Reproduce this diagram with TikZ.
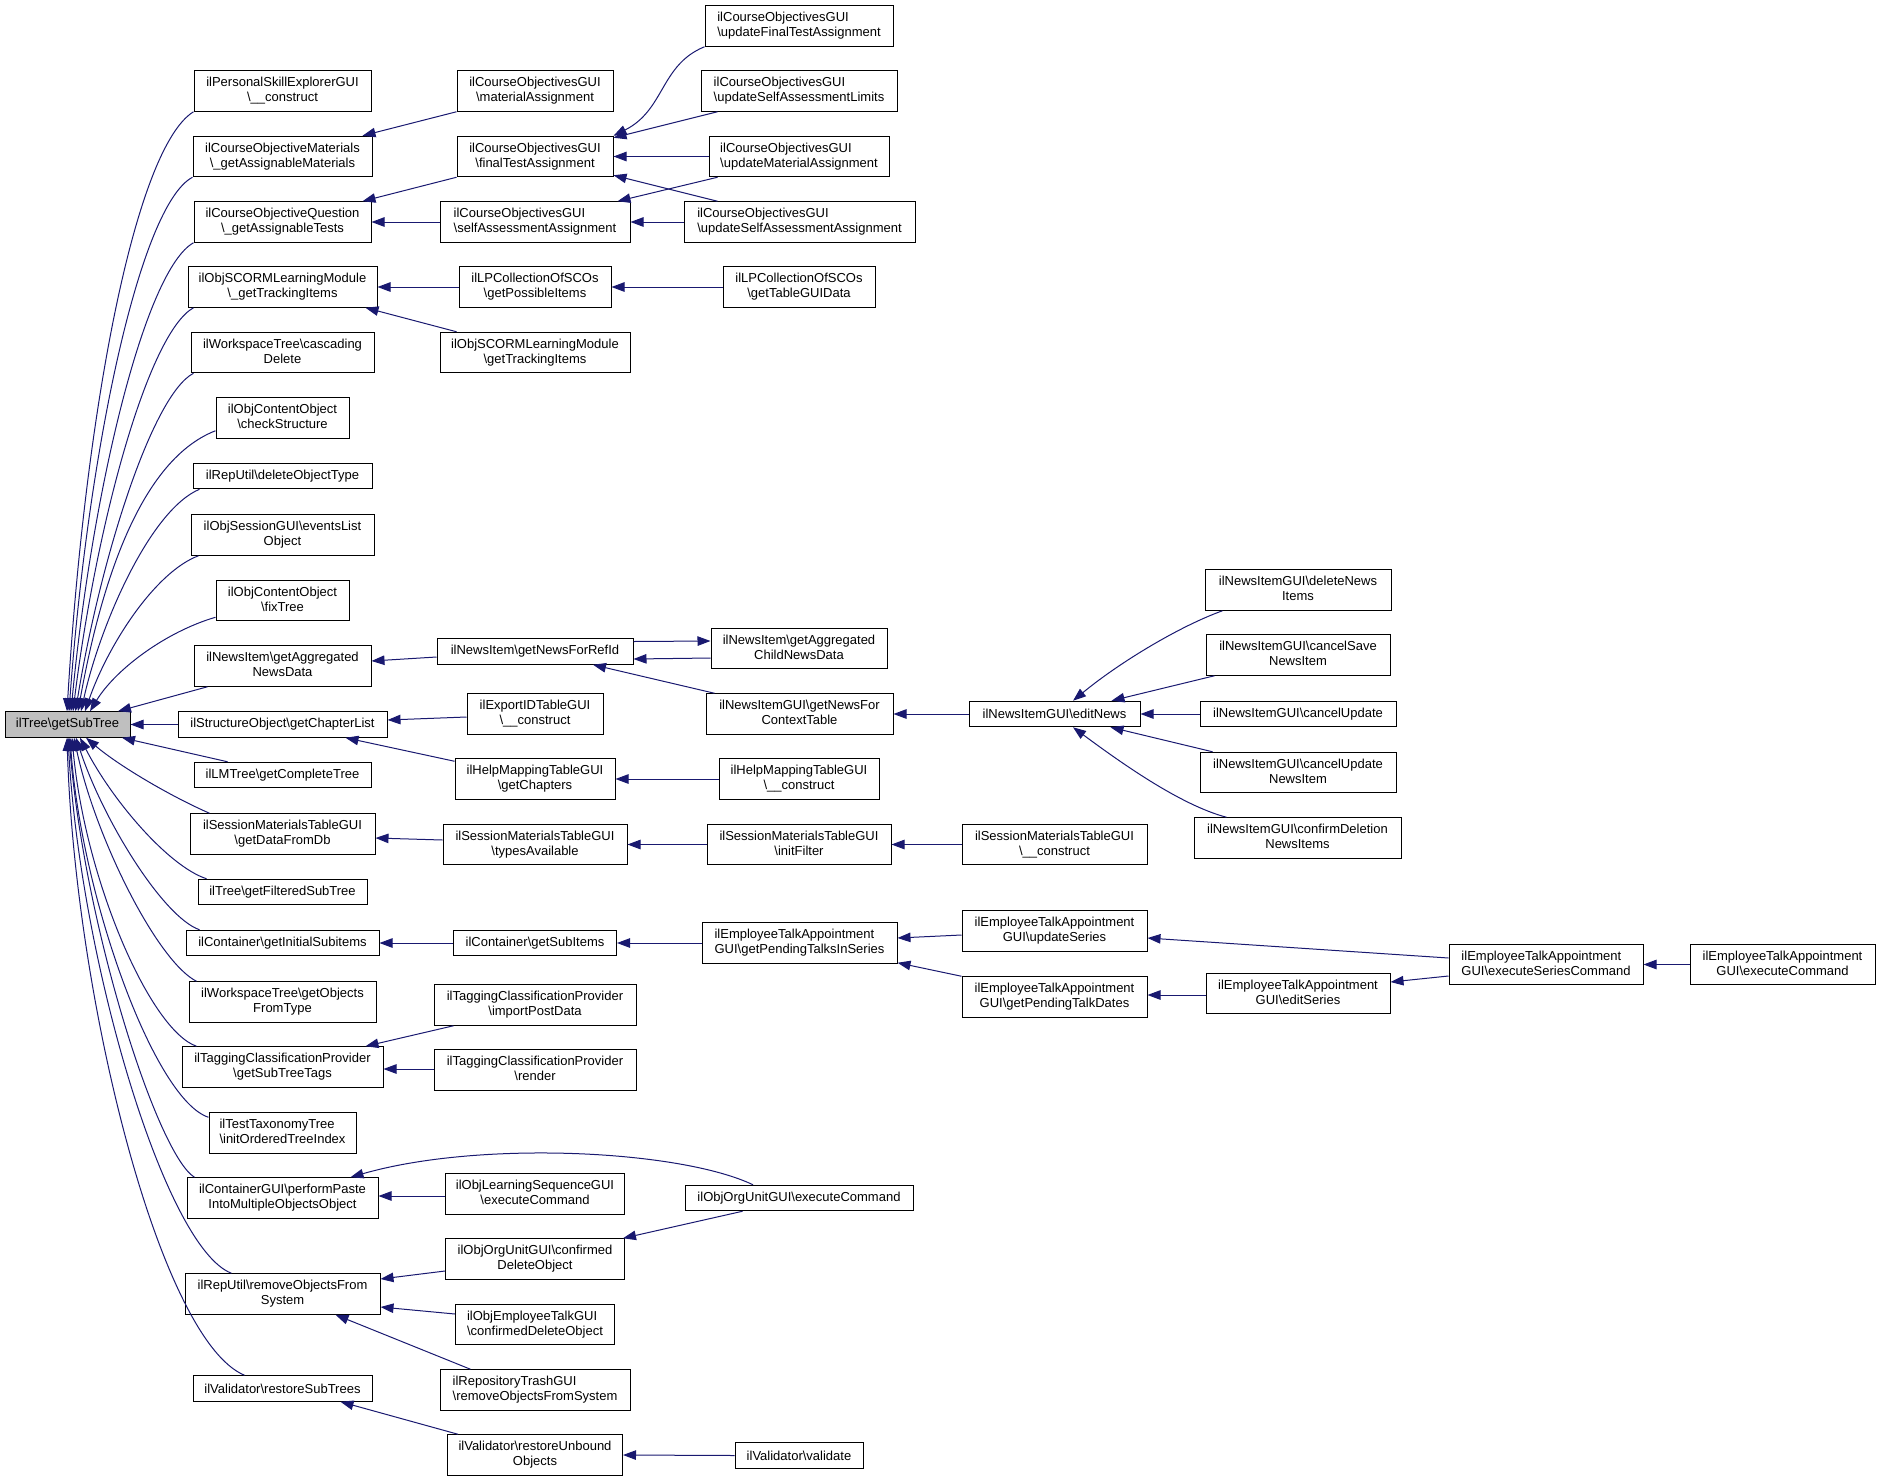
\documentclass[tikz,border=0pt]{standalone}
\usepackage{fontspec}
\setmainfont{Liberation Sans}
\usetikzlibrary{arrows.meta,calc}
\definecolor{eblue}{HTML}{191970}
\definecolor{rootfill}{HTML}{BFBFBF}
\definecolor{bgray}{HTML}{404040}
\newlength\twA\newlength\twB
\newcommand\twol[2]{\settowidth\twA{#1}\settowidth\twB{#2}%
 \begin{tabular}{@{}c@{}}\ifdim\twA<\twB\makebox[\twB][l]{#1}\else#1\fi\\#2\end{tabular}}
\newcommand\bksl{\textbackslash}
\begin{document}
\begin{tikzpicture}[x=1pt,y=-1pt,
  bx/.style={draw=black,line width=1pt,fill=white,inner sep=0pt,font=\fontsize{13}{15}\selectfont},
  one/.style={bx,minimum height=25.5pt},
  two/.style={bx,minimum height=40.5pt},
  e/.style={draw=eblue,line width=1pt,<-,>={Triangle[length=13pt,width=9.5pt]}}]
\useasboundingbox (0,0) rectangle (1880,1481);
% root
\node[one,fill=rootfill,minimum width=125pt] (root) at (67.5,724.5) {ilTree\bksl getSubTree};
% column 1
\node[two,minimum width=177pt] (a1) at (282.5,91) {\twol{ilPersonalSkillExplorerGUI}{\bksl\_\_construct}};
\node[two,minimum width=179pt] (a2) at (282.5,156.5) {\twol{ilCourseObjectiveMaterials}{\bksl\_getAssignableMaterials}};
\node[two,minimum width=177pt] (a3) at (282.5,222) {\twol{ilCourseObjectiveQuestion}{\bksl\_getAssignableTests}};
\node[two,minimum width=189pt] (a4) at (282.5,287) {\twol{ilObjSCORMLearningModule}{\bksl\_getTrackingItems}};
\node[two,minimum width=183pt] (a5) at (282.5,352.5) {\twol{ilWorkspaceTree\bksl cascading}{Delete}};
\node[two,minimum width=133pt] (a6) at (282.5,418) {\twol{ilObjContentObject}{\bksl checkStructure}};
\node[one,minimum width=179pt] (a7) at (282.5,476) {ilRepUtil\bksl deleteObjectType};
\node[two,minimum width=183pt] (a8) at (282.5,535) {\twol{ilObjSessionGUI\bksl eventsList}{Object}};
\node[two,minimum width=133pt] (a9) at (282.5,600.5) {\twol{ilObjContentObject}{\bksl fixTree}};
\node[two,minimum width=177pt] (a10) at (282.5,666) {\twol{ilNewsItem\bksl getAggregated}{NewsData}};
\node[one,minimum width=209pt] (a11) at (282.5,724.5) {ilStructureObject\bksl getChapterList};
\node[one,minimum width=177pt] (a12) at (282.5,775) {ilLMTree\bksl getCompleteTree};
\node[two,minimum width=185pt] (a13) at (282.5,834) {\twol{ilSessionMaterialsTableGUI}{\bksl getDataFromDb}};
\node[one,minimum width=169pt] (a14) at (282.5,892) {ilTree\bksl getFilteredSubTree};
\node[one,minimum width=193pt] (a15) at (282.5,943) {ilContainer\bksl getInitialSubitems};
\node[two,minimum width=187pt] (a16) at (282.5,1002) {\twol{ilWorkspaceTree\bksl getObjects}{FromType}};
\node[two,minimum width=201pt] (a17) at (282.5,1067) {\twol{ilTaggingClassificationProvider}{\bksl getSubTreeTags}};
\node[two,minimum width=147pt] (a18) at (282.5,1133) {\twol{ilTestTaxonomyTree}{\bksl initOrderedTreeIndex}};
\node[two,minimum width=191pt] (a19) at (282.5,1198) {\twol{ilContainerGUI\bksl performPaste}{IntoMultipleObjectsObject}};
\node[two,minimum width=195pt] (a20) at (282.5,1294) {\twol{ilRepUtil\bksl removeObjectsFrom}{System}};
\node[one,minimum width=179pt] (a21) at (282.5,1388.5) {ilValidator\bksl restoreSubTrees};
% column 2
\node[two,minimum width=156pt] (b1) at (535,91) {\twol{ilCourseObjectivesGUI}{\bksl materialAssignment}};
\node[two,minimum width=156pt] (b2) at (535,156.5) {\twol{ilCourseObjectivesGUI}{\bksl finalTestAssignment}};
\node[two,minimum width=190pt] (b3) at (535,222) {\twol{ilCourseObjectivesGUI}{\bksl selfAssessmentAssignment}};
\node[two,minimum width=152pt] (b4) at (535,287) {\twol{ilLPCollectionOfSCOs}{\bksl getPossibleItems}};
\node[two,minimum width=190pt] (b5) at (535,352.5) {\twol{ilObjSCORMLearningModule}{\bksl getTrackingItems}};
\node[one,minimum width=196pt] (b6) at (535,651.5) {ilNewsItem\bksl getNewsForRefId};
\node[two,minimum width=136pt] (b7) at (535,714) {\twol{ilExportIDTableGUI}{\bksl\_\_construct}};
\node[two,minimum width=160pt] (b8) at (535,779) {\twol{ilHelpMappingTableGUI}{\bksl getChapters}};
\node[two,minimum width=184pt] (b9) at (535,844.5) {\twol{ilSessionMaterialsTableGUI}{\bksl typesAvailable}};
\node[one,minimum width=163pt] (b10) at (535,943) {ilContainer\bksl getSubItems};
\node[two,minimum width=202pt] (b11) at (535,1005) {\twol{ilTaggingClassificationProvider}{\bksl importPostData}};
\node[two,minimum width=202pt] (b12) at (535,1070) {\twol{ilTaggingClassificationProvider}{\bksl render}};
\node[two,minimum width=179pt] (b13) at (535,1194) {\twol{ilObjLearningSequenceGUI}{\bksl executeCommand}};
\node[two,minimum width=179pt] (b14) at (535,1259) {\twol{ilObjOrgUnitGUI\bksl confirmed}{DeleteObject}};
\node[two,minimum width=159pt] (b15) at (535,1324.5) {\twol{ilObjEmployeeTalkGUI}{\bksl confirmedDeleteObject}};
\node[two,minimum width=190pt] (b16) at (535,1390) {\twol{ilRepositoryTrashGUI}{\bksl removeObjectsFromSystem}};
\node[two,minimum width=175pt] (b17) at (535,1455) {\twol{ilValidator\bksl restoreUnbound}{Objects}};
% column 3
\node[two,minimum width=188pt] (c1) at (799,26) {\twol{ilCourseObjectivesGUI}{\bksl updateFinalTestAssignment}};
\node[two,minimum width=196pt] (c2) at (799,91) {\twol{ilCourseObjectivesGUI}{\bksl updateSelfAssessmentLimits}};
\node[two,minimum width=180pt] (c3) at (799,156.5) {\twol{ilCourseObjectivesGUI}{\bksl updateMaterialAssignment}};
\node[two,minimum width=231pt] (c4) at (799.5,222) {\twol{ilCourseObjectivesGUI}{\bksl updateSelfAssessmentAssignment}};
\node[two,minimum width=152pt] (c5) at (799,287) {\twol{ilLPCollectionOfSCOs}{\bksl getTableGUIData}};
\node[two,minimum width=176pt] (c6) at (799,648.5) {\twol{ilNewsItem\bksl getAggregated}{ChildNewsData}};
\node[two,minimum width=187pt] (c7) at (799.5,714) {\twol{ilNewsItemGUI\bksl getNewsFor}{ContextTable}};
\node[two,minimum width=160pt] (c8) at (799,779) {\twol{ilHelpMappingTableGUI}{\bksl\_\_construct}};
\node[two,minimum width=184pt] (c9) at (799,844.5) {\twol{ilSessionMaterialsTableGUI}{\bksl initFilter}};
\node[two,minimum width=195pt] (c10) at (799.5,943) {\twol{ilEmployeeTalkAppointment}{GUI\bksl getPendingTalksInSeries}};
\node[one,minimum width=228pt] (c11) at (799,1198) {ilObjOrgUnitGUI\bksl executeCommand};
\node[one,minimum width=128pt] (c12) at (799,1455.5) {ilValidator\bksl validate};
% column 4
\node[one,minimum width=171pt] (d1) at (1054.5,714) {ilNewsItemGUI\bksl editNews};
\node[two,minimum width=185pt] (d2) at (1054.5,844.5) {\twol{ilSessionMaterialsTableGUI}{\bksl\_\_construct}};
\node[two,minimum width=185pt] (d3) at (1054.5,931) {\twol{ilEmployeeTalkAppointment}{GUI\bksl updateSeries}};
\node[two,minimum width=185pt] (d4) at (1054.5,997) {\twol{ilEmployeeTalkAppointment}{GUI\bksl getPendingTalkDates}};
% column 5
\node[two,minimum width=186pt] (e1) at (1298,590) {\twol{ilNewsItemGUI\bksl deleteNews}{Items}};
\node[two,minimum width=184pt] (e2) at (1298,655) {\twol{ilNewsItemGUI\bksl cancelSave}{NewsItem}};
\node[one,minimum width=196pt] (e3) at (1298,714) {ilNewsItemGUI\bksl cancelUpdate};
\node[two,minimum width=196pt] (e4) at (1298,772.5) {\twol{ilNewsItemGUI\bksl cancelUpdate}{NewsItem}};
\node[two,minimum width=207pt] (e5) at (1297.5,838) {\twol{ilNewsItemGUI\bksl confirmDeletion}{NewsItems}};
\node[two,minimum width=184pt] (e6) at (1298,993.5) {\twol{ilEmployeeTalkAppointment}{GUI\bksl editSeries}};
% columns 6, 7
\node[two,minimum width=194pt] (f1) at (1546,964.5) {\twol{ilEmployeeTalkAppointment}{GUI\bksl executeSeriesCommand}};
\node[two,minimum width=185pt] (g1) at (1782.5,964.5) {\twol{ilEmployeeTalkAppointment}{GUI\bksl executeCommand}};

% ---- edges into root (top)
\draw[e] ([xshift=-0.5pt]root.north) .. controls (85,412) and (135,148) .. (a1.south west);
\draw[e] ([xshift=1.5pt]root.north) .. controls (88,450) and (140,205) .. (a2.south west);
\draw[e] ([xshift=3.5pt]root.north) .. controls (92,490) and (145,270) .. (a3.south west);
\draw[e] ([xshift=5.5pt]root.north) .. controls (96,525) and (148,333) .. ([xshift=6pt]a4.south west);
\draw[e] ([xshift=8pt]root.north) .. controls (100,560) and (152,395) .. ([xshift=3pt]a5.south west);
\draw[e] ([xshift=10.5pt]root.north) .. controls (98,600) and (135,462) .. ([yshift=8pt]a6.south west);
\draw[e] ([xshift=13.5pt]root.north) .. controls (100,625) and (150,510) .. ([xshift=7pt]a7.south west);
\draw[e] ([xshift=17.5pt]root.north) .. controls (108,645) and (155,572) .. ([xshift=8pt]a8.south west);
\draw[e] ([xshift=22.5pt]root.north) .. controls (115,670) and (165,632) .. ([yshift=4pt]a9.south west);
\draw[e] ([xshift=50.5pt]root.north) -- ([xshift=14pt]a10.south west);
\draw[e] (root.east) -- (a11.west);
% ---- edges into root (bottom)
\draw[e] ([xshift=54.5pt]root.south) -- ([xshift=34pt]a12.north west);
\draw[e] ([xshift=18.5pt]root.south) .. controls (118,765) and (168,795) .. ([xshift=20pt]a13.north west);
\draw[e] ([xshift=12.5pt]root.south) .. controls (112,800) and (168,866) .. ([xshift=9pt]a14.north west);
\draw[e] ([xshift=8.5pt]root.south) .. controls (103,820) and (163,917) .. ([xshift=14pt]a15.north west);
\draw[e] ([xshift=6.5pt]root.south) .. controls (96,840) and (158,962) .. ([xshift=8pt]a16.north west);
\draw[e] ([xshift=4.5pt]root.south) .. controls (85,880) and (150,1030) .. ([xshift=15pt]a17.north west);
\draw[e] ([xshift=2.5pt]root.south) .. controls (82,900) and (155,1100) .. ([yshift=-5pt]a18.north west);
\draw[e] ([xshift=1.5pt]root.south) .. controls (85,930) and (158,1155) .. ([xshift=8pt]a19.north west);
\draw[e] ([xshift=0.5pt]root.south) .. controls (80,960) and (165,1248) .. ([xshift=47pt]a20.north west);
\draw[e] ([xshift=-0.5pt]root.south) .. controls (75,1000) and (160,1340) .. ([xshift=52pt]a21.north west);

% ---- column 2 -> column 1
\draw[e] ([xshift=-10pt]a2.north east) -- (b1.south west);
\draw[e] ([xshift=-9pt]a3.north east) -- (b2.south west);
\draw[e] (a3.east) -- (b3.west);
\draw[e] (a4.east) -- (b4.west);
\draw[e] ([xshift=-12pt]a4.south east) -- ([xshift=17pt]b5.north west);
\draw[e] ([yshift=5pt]a10.east) -- ([yshift=-5.5pt]b6.west);
\draw[e] ([yshift=4.5pt]a11.east) -- ([yshift=-3pt]b7.west);
\draw[e] ([xshift=-42pt]a11.south east) -- ([yshift=-3pt]b8.north west);
\draw[e] ([yshift=-4pt]a13.east) -- ([yshift=4.5pt]b9.west);
\draw[e] (a15.east) -- (b10.west);
\draw[e] ([xshift=-18pt]a17.north east) -- ([xshift=20pt]b11.south west);
\draw[e] ([yshift=-2pt]a17.east) -- ([yshift=1pt]b12.west);
\draw[e] ([xshift=-28pt]a19.north east) .. controls (480,1140) and (680,1150) .. ([xshift=-46pt]c11.north);
\draw[e] ([yshift=2pt]a19.east) -- ([yshift=-2pt]b13.west);
\draw[e] ([yshift=15pt]a20.east) -- ([yshift=-12pt]b14.west);
\draw[e] ([yshift=-13pt]a20.east) -- ([yshift=10.5pt]b15.west);
\draw[e] ([xshift=-45pt]a20.south east) -- ([xshift=31pt]b16.north west);
\draw[e] ([xshift=-32pt]a21.south east) -- ([xshift=11pt]b17.north west);

% ---- column 3 -> column 2
\draw[e] (b2.north east) .. controls (665,110) and (660,65) .. (c1.south west);
\draw[e] ([yshift=-2pt]b2.north east) -- ([xshift=17pt]c2.south west);
\draw[e] (b2.east) -- (c3.west);
\draw[e] ([xshift=-13pt]b3.north east) -- ([xshift=9pt]c3.south west);
\draw[e] ([yshift=2pt]b2.south east) -- ([xshift=34pt]c4.north west);
\draw[e] (b3.east) -- (c4.west);
\draw[e] (b4.east) -- (c5.west);
\draw[e] ([yshift=7.5pt]c6.west) -- ([yshift=10pt]b6.east);
\draw[e] ([yshift=-7.5pt]b6.east) -- ([yshift=-9.5pt]c6.west);
\draw[e] ([xshift=58pt]b6.south) -- ([xshift=9pt]c7.north west);
\draw[e] (b8.east) -- (c8.west);
\draw[e] (b9.east) -- (c9.west);
\draw[e] (b10.east) -- (c10.west);
\draw[e] ([xshift=-2pt]b14.north east) -- ([xshift=58pt]c11.south west);
\draw[e] (b17.east) -- (c12.west);

% ---- column 4 -> column 3
\draw[e] (c7.east) -- (d1.west);
\draw[e] (c9.east) -- (d2.west);
\draw[e] ([yshift=5pt]c10.east) -- ([yshift=-4pt]d3.west);
\draw[e] ([yshift=1pt]c10.south east) -- (d4.north west);

% ---- column 5 -> column 4
\draw[e] ([xshift=18.5pt]d1.north) .. controls (1120,662) and (1180,626) .. ([xshift=18pt]e1.south west);
\draw[e] ([xshift=57pt]d1.north) -- ([xshift=9pt]e2.south west);
\draw[e] (d1.east) -- (e3.west);
\draw[e] ([xshift=56pt]d1.south) -- ([xshift=13pt]e4.north west);
\draw[e] ([xshift=18.5pt]d1.south) .. controls (1120,762) and (1180,805) .. ([xshift=33pt]e5.north west);
\draw[e] ([yshift=2pt]d4.east) -- ([yshift=-1.5pt]e6.west);

% ---- columns 6, 7
\draw[e] ([yshift=-7pt]d3.east) -- ([yshift=6.5pt]f1.west);
\draw[e] ([yshift=11.5pt]e6.east) -- ([yshift=-11.5pt]f1.west);
\draw[e] (f1.east) -- (g1.west);
\end{tikzpicture}
\end{document}
